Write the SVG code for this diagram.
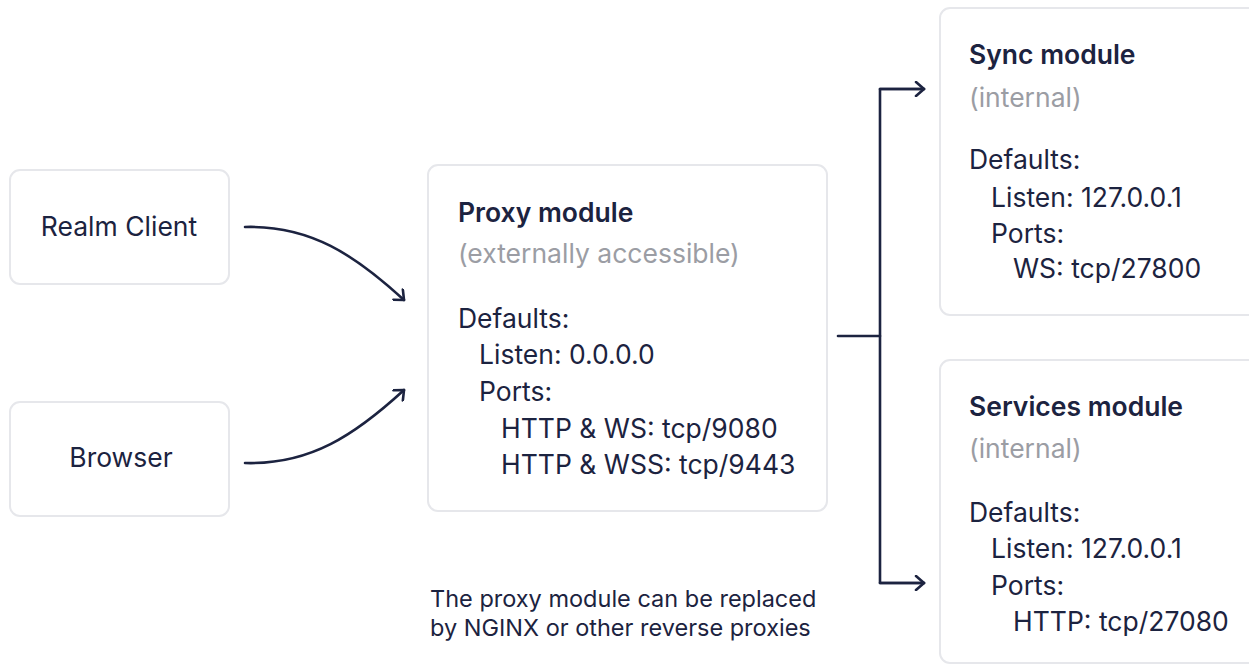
<svg xmlns="http://www.w3.org/2000/svg" width="1249" height="665" viewBox="0 0 1249 665">
<defs>
<style>
.box{fill:#ffffff;stroke:#e6e7eb;stroke-width:2}
.t{font-family:Inter,"Noto Sans",sans-serif;font-size:26.5px;fill:#1c2340}
.b{font-weight:600}
.g{fill:#9b9da4}
.s{font-size:23.5px}
.c{fill:none;stroke:#1c2340;stroke-width:2.6;stroke-linecap:round;stroke-linejoin:round}
</style>
<marker id="ah" viewBox="0 0 12 16" refX="10" refY="8" markerWidth="12" markerHeight="16" markerUnits="userSpaceOnUse" orient="auto">
<path d="M2,1 L10,8 L2,15" fill="none" stroke="#1c2340" stroke-width="2.6" stroke-linecap="round" stroke-linejoin="round"/>
</marker>
</defs>
<rect width="1249" height="665" fill="#ffffff"/>
<g id="realm-client">
<rect class="box" x="10" y="170" width="219" height="114" rx="10"/>
<text class="t" x="119" y="236" text-anchor="middle">Realm Client</text>
</g>
<g id="browser">
<rect class="box" x="10" y="402" width="219" height="114" rx="10"/>
<text class="t" x="121" y="467" text-anchor="middle">Browser</text>
</g>
<g id="proxy-module">
<rect class="box" x="428" y="165" width="399" height="346" rx="10"/>
<text class="t b" x="458" y="222">Proxy module</text>
<text class="t g" x="458" y="263">(externally accessible)</text>
<text class="t" x="458" y="328">Defaults:</text>
<text class="t" x="479" y="364">Listen: 0.0.0.0</text>
<text class="t" x="479" y="401">Ports:</text>
<text class="t" x="501" y="438">HTTP &amp; WS: tcp/9080</text>
<text class="t" x="501" y="474">HTTP &amp; WSS: tcp/9443</text>
</g>
<g id="sync-module">
<rect class="box" x="940" y="8" width="330" height="307" rx="10"/>
<text class="t b" x="969" y="64">Sync module</text>
<text class="t g" x="969" y="107">(internal)</text>
<text class="t" x="969" y="169">Defaults:</text>
<text class="t" x="991" y="207">Listen: 127.0.0.1</text>
<text class="t" x="991" y="243">Ports:</text>
<text class="t" x="1013" y="278">WS: tcp/27800</text>
</g>
<g id="services-module">
<rect class="box" x="940" y="360" width="330" height="303" rx="10"/>
<text class="t b" x="969" y="416">Services module</text>
<text class="t g" x="969" y="458">(internal)</text>
<text class="t" x="969" y="522">Defaults:</text>
<text class="t" x="991" y="558">Listen: 127.0.0.1</text>
<text class="t" x="991" y="595">Ports:</text>
<text class="t" x="1013" y="631">HTTP: tcp/27080</text>
</g>
<g id="note">
<text class="t s" x="430" y="607">The proxy module can be replaced</text>
<text class="t s" x="430" y="636">by NGINX or other reverse proxies</text>
</g>
<g id="connectors">
<path class="c" d="M245,227 C310,225 355,255 404,300" marker-end="url(#ah)"/>
<path class="c" d="M245,463 C310,465 355,435 404,390" marker-end="url(#ah)"/>
<path class="c" d="M838,336 H880"/>
<path class="c" d="M924,89 H880 V583 H924"/>
<path class="c" d="M880,89 H924" marker-end="url(#ah)"/>
<path class="c" d="M880,583 H924" marker-end="url(#ah)"/>
</g>
</svg>
